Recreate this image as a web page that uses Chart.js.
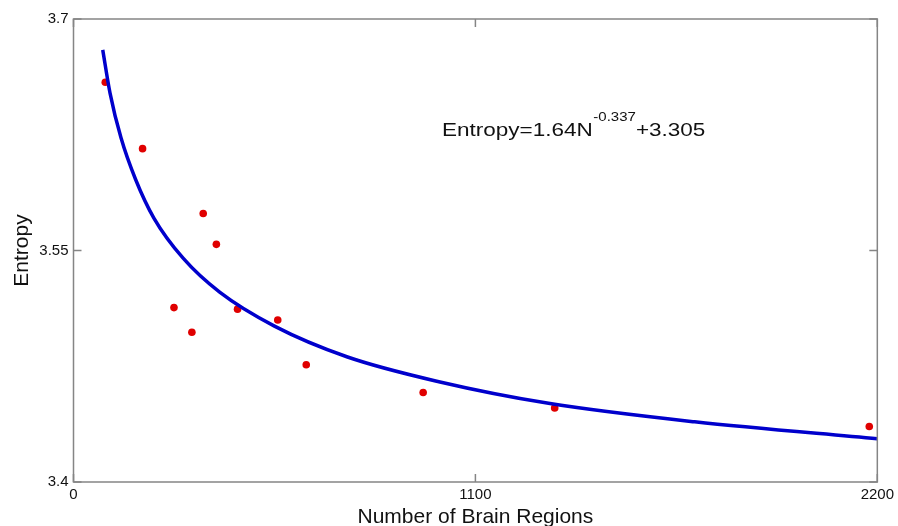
<!DOCTYPE html>
<html>
<head>
<meta charset="utf-8">
<script src="https://cdn.jsdelivr.net/npm/chart.js@4"></script>
<style>
  body { margin: 0; background: #fff; }
  #wrap { width: 898px; height: 526px; }
</style>
</head>
<body>
<div id="wrap"><canvas id="myChart" width="898" height="526"></canvas></div>
<script>
// Datos medidos (puntos rojos)
const brainRegions = [87, 189, 355, 391, 275, 324, 449, 559, 637, 957, 1317, 2178];
const entropyValues = [3.659, 3.616, 3.574, 3.554, 3.513, 3.497, 3.512, 3.505, 3.476, 3.458, 3.448, 3.436];

// Curva ajustada
const fitRegions = [80, 100, 130, 170, 220, 300, 400, 550, 750, 1000, 1300, 1700, 2200];
const fitEntropy = [3.680, 3.652, 3.623, 3.596, 3.571, 3.545, 3.523, 3.501, 3.481, 3.465, 3.451, 3.439, 3.428];

const xTicks = [0, 1100, 2200];
const yTicks = [3.4, 3.55, 3.7];

const axisColor = '#858585';
const font = 'Arial, "Liberation Sans", sans-serif';

// Marco con marcas hacia dentro y la ecuación
const framePlugin = {
    id: 'frame',
    afterDraw(chart) {
        const { ctx, chartArea: a, scales } = chart;
        ctx.save();
        ctx.strokeStyle = axisColor;
        ctx.lineWidth = 1.5;
        ctx.strokeRect(a.left, a.top, a.right - a.left, a.bottom - a.top);
        ctx.beginPath();
        xTicks.forEach(v => {
            const x = scales.x.getPixelForValue(v);
            ctx.moveTo(x, a.bottom); ctx.lineTo(x, a.bottom - 8);
            ctx.moveTo(x, a.top); ctx.lineTo(x, a.top + 8);
        });
        yTicks.forEach(v => {
            const y = scales.y.getPixelForValue(v);
            ctx.moveTo(a.left, y); ctx.lineTo(a.left + 8, y);
            ctx.moveTo(a.right, y); ctx.lineTo(a.right - 8, y);
        });
        ctx.stroke();

        // Ecuación
        const sx = 1.25;
        ctx.fillStyle = '#111';
        ctx.textBaseline = 'alphabetic';
        ctx.translate(442, 136);
        ctx.scale(sx, 1);
        ctx.font = '18px ' + font;
        const main = 'Entropy=1.64N';
        ctx.fillText(main, 0, 0);
        let x = ctx.measureText(main).width + 0.5;
        ctx.font = '12px ' + font;
        const sup = '-0.337';
        ctx.fillText(sup, x, -15);
        x += ctx.measureText(sup).width;
        ctx.font = '18px ' + font;
        ctx.fillText('+3.305', x, 0);
        ctx.restore();
    }
};

const ctx = document.getElementById('myChart').getContext('2d');
const myChart = new Chart(ctx, {
    type: 'scatter',
    data: {
        datasets: [{
            type: 'line',
            data: fitRegions.map((r, i) => ({ x: r, y: fitEntropy[i] })),
            borderColor: '#0000cc',
            borderWidth: 3.5,
            pointRadius: 0,
            cubicInterpolationMode: 'monotone',
            fill: false
        }, {
            data: brainRegions.map((r, i) => ({ x: r, y: entropyValues[i] })),
            backgroundColor: '#e00000',
            borderWidth: 0,
            pointRadius: 3.8
        }]
    },
    options: {
        responsive: false,
        animation: false,
        layout: { padding: { top: 19, right: 19, left: 0, bottom: 0 } },
        plugins: { legend: { display: false }, tooltip: { enabled: false } },
        scales: {
            x: {
                type: 'linear',
                min: 0,
                max: 2200,
                afterBuildTicks: s => { s.ticks = xTicks.map(v => ({ value: v })); },
                afterFit: s => { s.height = 44; },
                grid: { display: false, drawTicks: false, tickLength: 0 },
                border: { display: false },
                ticks: {
                    color: '#111', font: { family: font, size: 15 }, padding: 4, maxRotation: 0,
                    callback: v => String(v)
                },
                title: {
                    display: true,
                    text: 'Number of Brain Regions',
                    color: '#111',
                    font: { family: font, size: 21 },
                    padding: { top: 0, bottom: -4 }
                }
            },
            y: {
                min: 3.4,
                max: 3.7,
                afterBuildTicks: s => { s.ticks = yTicks.map(v => ({ value: v })); },
                afterFit: s => { s.width = 73.5; },
                grid: { display: false, drawTicks: false, tickLength: 0 },
                border: { display: false },
                ticks: {
                    color: '#111', font: { family: font, size: 15 }, padding: 5,
                    callback: v => String(v)
                },
                title: {
                    display: true,
                    text: 'Entropy',
                    color: '#111',
                    font: { family: font, size: 21 },
                    padding: { top: 10, bottom: 0 }
                }
            }
        }
    },
    plugins: [framePlugin]
});
</script>
</body>
</html>
